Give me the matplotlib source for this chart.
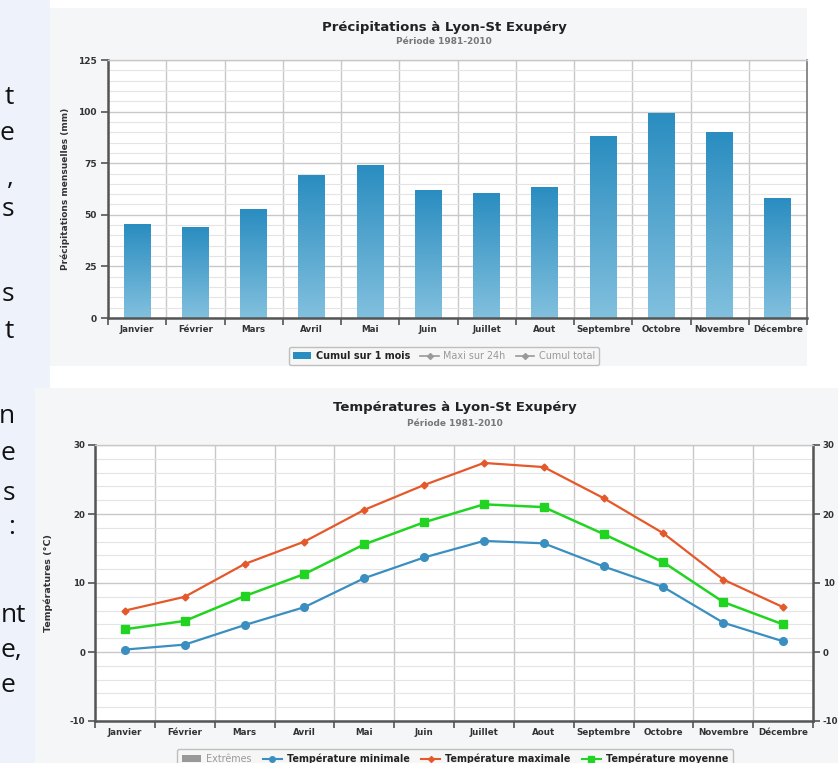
import matplotlib.pyplot as plt
import numpy as np
from matplotlib.patches import Rectangle, Patch
from matplotlib.lines import Line2D
from matplotlib.colors import LinearSegmentedColormap
from matplotlib.ticker import MultipleLocator

plt.rcParams['axes.unicode_minus'] = False

W, H = 838, 763

mois = ['Janvier', 'Février', 'Mars', 'Avril', 'Mai', 'Juin', 'Juillet',
        'Aout', 'Septembre', 'Octobre', 'Novembre', 'Décembre']
precip = [45.5, 44.0, 52.5, 68.8, 73.8, 61.7, 60.4, 63.3, 88.0, 99.2, 89.8, 57.7]
t_min = [0.35, 1.07, 3.9, 6.5, 10.7, 13.7, 16.1, 15.75, 12.4, 9.4, 4.25, 1.55]
t_max = [6.0, 8.0, 12.75, 16.0, 20.6, 24.2, 27.4, 26.8, 22.3, 17.2, 10.5, 6.5]
t_moy = [3.3, 4.5, 8.1, 11.3, 15.6, 18.8, 21.4, 21.0, 17.1, 13.0, 7.25, 4.0]

# bouts de texte de la page coupés à gauche
frag_haut = [('t', 97), ('e', 133), (',', 178), ('s', 210), ('s', 295), ('t', 331)]
frag_bas = [('n', 417), ('e', 453), ('s', 493), (':', 528), ('nt', 615), ('e,', 650), ('e', 685)]


def fx(px):
    return px / W


def fy(py):
    return 1 - py / H


fig = plt.figure(figsize=(W / 100, H / 100), dpi=100)
fig.patch.set_facecolor('white')

# fonds des panneaux
fig.patches.append(Rectangle((0, 0), fx(50), 1, transform=fig.transFigure,
                             facecolor='#eef3fb', edgecolor='none', zorder=-5))
fig.patches.append(Rectangle((fx(50), fy(366)), fx(757), 358 / H, transform=fig.transFigure,
                             facecolor='#f5f6f7', edgecolor='none', zorder=-5))
fig.patches.append(Rectangle((fx(35), 0), fx(803), 375 / H, transform=fig.transFigure,
                             facecolor='#f5f6f7', edgecolor='none', zorder=-5))

for txt, y in frag_haut:
    fig.text(fx(14), fy(y), txt, ha='right', va='center', fontsize=19,
             family='Open Sans', color='#111111')
for txt, y in frag_bas:
    if len(txt) > 1:
        fig.text(fx(1), fy(y), txt, ha='left', va='center', fontsize=19,
                 family='Open Sans', color='#111111')
    else:
        fig.text(fx(15), fy(y), txt, ha='right', va='center', fontsize=19,
                 family='Open Sans', color='#111111')

tick_col = '#333333'
grid_major = '#c8c8c8'
grid_minor = '#e4e4e4'


def style_axes(ax, ymin, ymax, major, minor, right=False):
    ax.set_facecolor('white')
    ax.set_xlim(-0.5, 11.5)
    ax.set_ylim(ymin, ymax)
    ax.yaxis.set_major_locator(MultipleLocator(major))
    ax.yaxis.set_minor_locator(MultipleLocator(minor))
    ax.set_xticks(np.arange(-0.5, 12, 1), minor=False)
    ax.set_xticklabels([])
    ax.set_xticks(np.arange(12), minor=True)
    ax.set_xticklabels(mois, minor=True, fontsize=6.3, fontweight='bold', color=tick_col)
    ax.tick_params(axis='x', which='minor', length=0, pad=5)
    ax.tick_params(axis='x', which='major', length=5, width=1.2, color='#555555', direction='out')
    ax.tick_params(axis='y', which='major', length=5, width=1.2, color='#555555',
                   labelsize=6.5, labelcolor=tick_col, pad=3)
    ax.tick_params(axis='y', which='minor', length=0)
    ax.grid(True, axis='y', which='major', color=grid_major, lw=1.0, zorder=0)
    ax.grid(True, axis='y', which='minor', color=grid_minor, lw=0.8, zorder=0)
    ax.grid(True, axis='x', which='major', color=grid_major, lw=1.0, zorder=0)
    ax.set_axisbelow(True)
    for s in ['left', 'bottom']:
        ax.spines[s].set_color('#555555')
        ax.spines[s].set_linewidth(1.8)
    ax.spines['top'].set_color(grid_major)
    ax.spines['top'].set_linewidth(1.0)
    ax.spines['right'].set_color('#555555' if right else '#777777')
    ax.spines['right'].set_linewidth(1.8 if right else 1.2)


# ---------- précipitations ----------
ax1 = fig.add_axes([fx(108), fy(318), fx(807 - 108), (318 - 60) / H])
style_axes(ax1, 0, 125, 25, 5)
ax1.set_yticks([0, 25, 50, 75, 100, 125])
for lab in ax1.get_yticklabels():
    lab.set_fontweight('bold')

bleu = LinearSegmentedColormap.from_list('bleu', ['#82c0de', '#2a8dc0'])
grad = np.linspace(0, 1, 256).reshape(-1, 1)
bw = 0.46
ax1.bar(np.arange(12), precip, width=bw, color='none', zorder=2)
for i, v in enumerate(precip):
    ax1.imshow(grad, extent=[i - bw / 2, i + bw / 2, 0, v], origin='lower',
               aspect='auto', cmap=bleu, zorder=2)
ax1.set_xlim(-0.5, 11.5)
ax1.set_ylim(0, 125)
ax1.set_ylabel('Précipitations mensuelles (mm)', fontsize=6.5, fontweight='bold',
               color=tick_col, labelpad=6)

fig.text(fx(444), fy(27), 'Précipitations à Lyon-St Exupéry', ha='center', va='center',
         fontsize=9.5, fontweight='bold', color='#222222')
fig.text(fx(444), fy(42), 'Période 1981-2010', ha='center', va='center',
         fontsize=6.5, fontweight='bold', color='#777777')

h1 = [Patch(facecolor='#2a8dc0', edgecolor='none'),
      Line2D([], [], color='#999999', marker='D', ms=3, lw=1.2),
      Line2D([], [], color='#999999', marker='D', ms=3, lw=1.2)]
leg1 = fig.legend(h1, ['Cumul sur 1 mois', 'Maxi sur 24h', 'Cumul total'],
                  loc='center', bbox_to_anchor=(fx(444), fy(356)), ncol=3,
                  fontsize=6.9, frameon=True, fancybox=True, handlelength=1.9,
                  handletextpad=0.5, columnspacing=1.1, borderpad=0.4)
leg1.get_frame().set_edgecolor('#b0b0b0')
leg1.get_frame().set_facecolor('#f7f7f7')
for t, c in zip(leg1.get_texts(), ['#222222', '#999999', '#999999']):
    t.set_color(c)
leg1.get_texts()[0].set_fontweight('bold')

# ---------- températures ----------
ax2 = fig.add_axes([fx(95), fy(721), fx(813 - 95), (721 - 445) / H])
style_axes(ax2, -10, 30, 10, 2, right=True)
ax2.set_yticks([-10, 0, 10, 20, 30])
ax2.tick_params(axis='y', which='major', right=True, labelright=True, labelsize=6.2, pad=2)
for lab in ax2.get_yticklabels():
    lab.set_fontweight('bold')
x = np.arange(12)
ax2.plot(x, t_min, color='#3a8fc0', lw=1.6, marker='o', ms=5.5, zorder=3)
ax2.plot(x, t_max, color='#e5582a', lw=1.6, marker='D', ms=3.5, zorder=3)
ax2.plot(x, t_moy, color='#22d422', lw=1.8, marker='s', ms=5.5, zorder=3)
ax2.set_ylabel('Températures (°C)', fontsize=6.8, fontweight='bold', color=tick_col, labelpad=12)

fig.text(fx(455), fy(408), 'Températures à Lyon-St Exupéry', ha='center', va='center',
         fontsize=9.5, fontweight='bold', color='#222222')
fig.text(fx(455), fy(423), 'Période 1981-2010', ha='center', va='center',
         fontsize=6.5, fontweight='bold', color='#777777')

h2 = [Patch(facecolor='#999999', edgecolor='none'),
      Line2D([], [], color='#3a8fc0', marker='o', ms=4, lw=1.5),
      Line2D([], [], color='#e5582a', marker='D', ms=3, lw=1.5),
      Line2D([], [], color='#22d422', marker='s', ms=4, lw=1.5)]
leg2 = fig.legend(h2, ['Extrêmes', 'Température minimale', 'Température maximale',
                       'Température moyenne'],
                  loc='upper center', bbox_to_anchor=(fx(455), fy(744)), ncol=4,
                  fontsize=6.9, frameon=True, fancybox=True, handlelength=2.0,
                  handletextpad=0.5, columnspacing=1.2, borderpad=0.5)
leg2.get_frame().set_edgecolor('#b0b0b0')
leg2.get_frame().set_facecolor('#f7f7f7')
for t, c in zip(leg2.get_texts(), ['#999999', '#222222', '#222222', '#222222']):
    t.set_color(c)
    t.set_fontweight('bold')
leg2.get_texts()[0].set_fontweight('normal')

fig.savefig('out.png', dpi=100)
